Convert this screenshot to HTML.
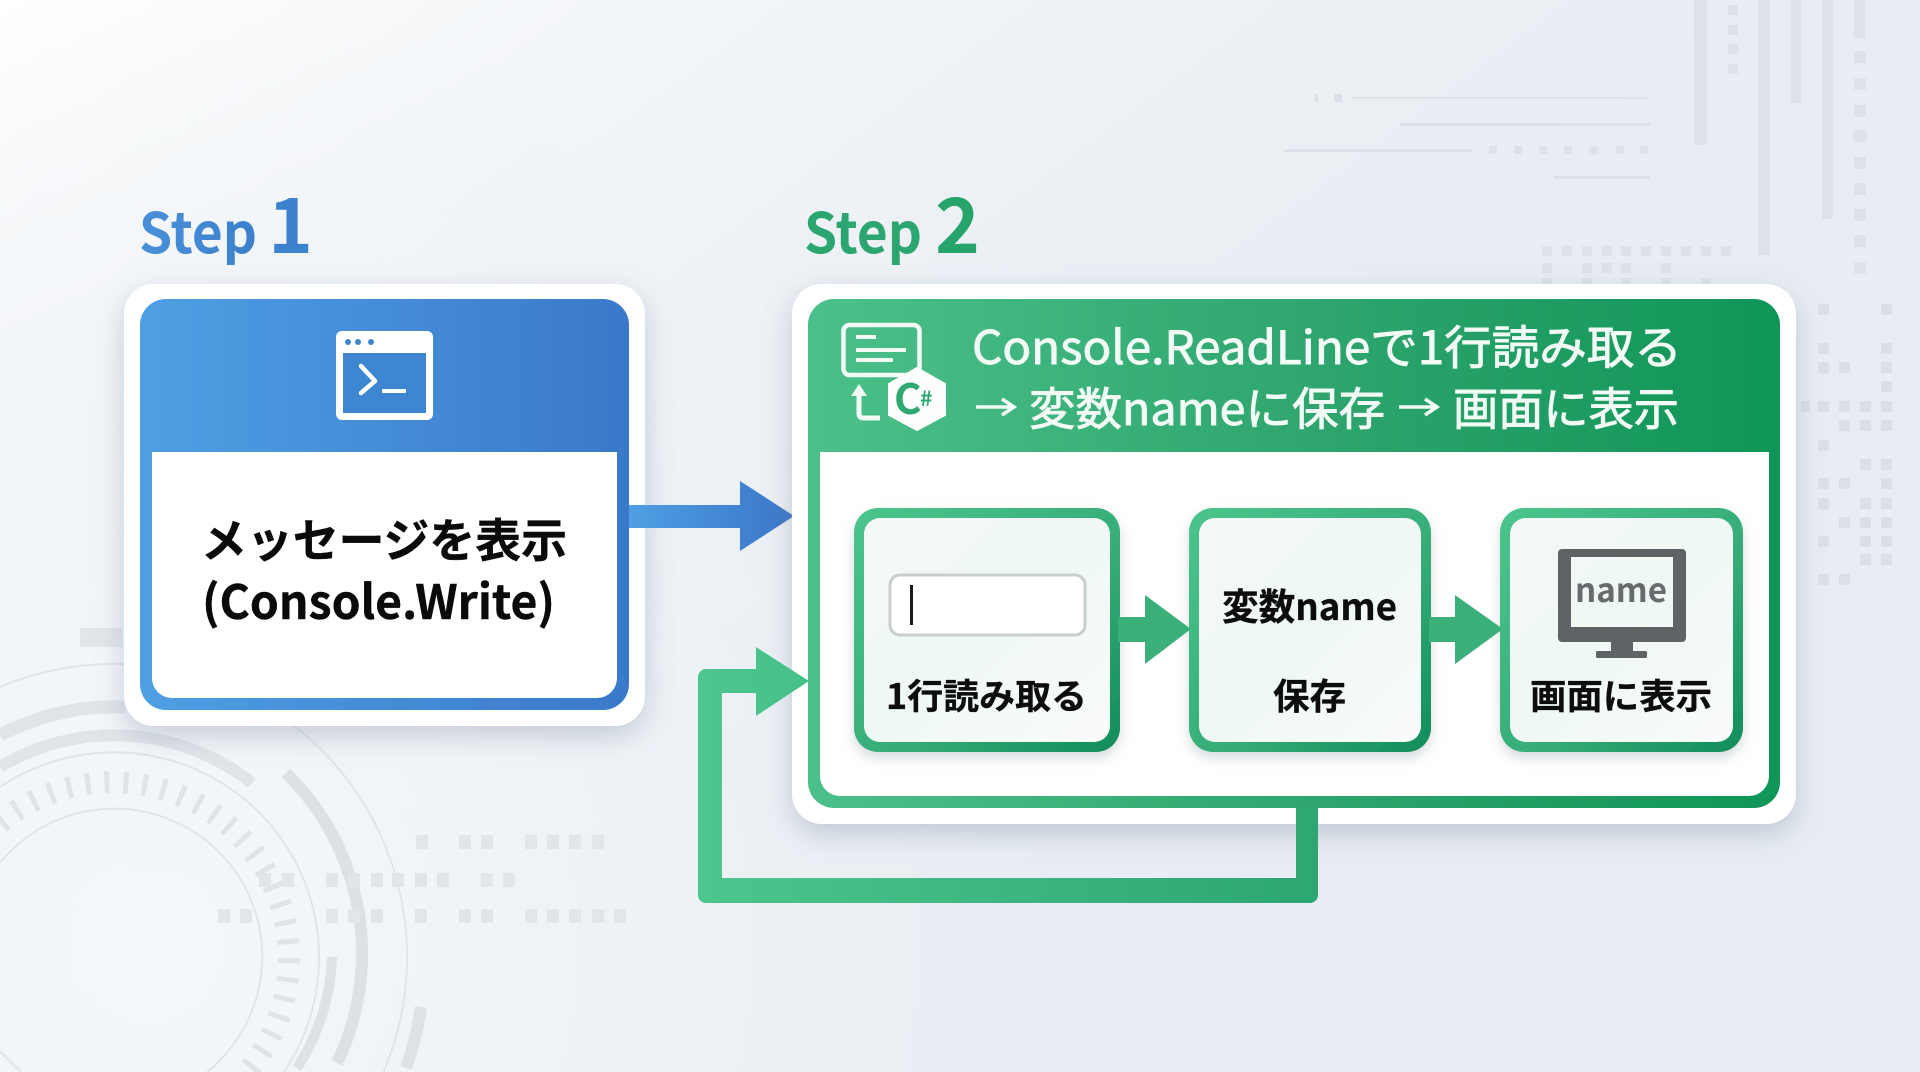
<!DOCTYPE html>
<html><head><meta charset="utf-8"><style>
html,body{margin:0;padding:0;width:1920px;height:1072px;overflow:hidden;background:#eef2f6}
svg{display:block}
text{font-family:"Noto Sans CJK JP","Liberation Sans",sans-serif;font-weight:700}
</style></head><body>
<svg width="1920" height="1072" viewBox="0 0 1920 1072" xmlns="http://www.w3.org/2000/svg">
<defs>
<linearGradient id="bg" x1="0" y1="0" x2="1" y2="0.75"><stop offset="0" stop-color="#ffffff"/><stop offset=".22" stop-color="#f2f5f8"/><stop offset=".6" stop-color="#e8edf3"/><stop offset="1" stop-color="#e8edf3"/></linearGradient>
<radialGradient id="bg2" gradientUnits="userSpaceOnUse" cx="150" cy="950" r="950"><stop offset="0" stop-color="#f5f8fa" stop-opacity=".95"/><stop offset=".55" stop-color="#f1f5f8" stop-opacity=".6"/><stop offset="1" stop-color="#eef2f6" stop-opacity="0"/></radialGradient>
<linearGradient id="blue" x1="0" y1="0" x2="1" y2="0"><stop offset="0" stop-color="#4f9fe4"/><stop offset="1" stop-color="#3a79c9"/></linearGradient>
<linearGradient id="blueArrow" gradientUnits="userSpaceOnUse" x1="629" y1="0" x2="793" y2="0"><stop offset="0" stop-color="#4f9fe4"/><stop offset="1" stop-color="#3a76c8"/></linearGradient>
<linearGradient id="stepB" x1="0" y1="0" x2="1" y2="0"><stop offset="0" stop-color="#4a90d9"/><stop offset="1" stop-color="#3c80cc"/></linearGradient>
<linearGradient id="green" x1="0" y1="0" x2="1" y2="0"><stop offset="0" stop-color="#4cc08a"/><stop offset=".55" stop-color="#2da46d"/><stop offset="1" stop-color="#0f9558"/></linearGradient>
<linearGradient id="greenSub" x1="0" y1="0" x2="1" y2="1"><stop offset="0" stop-color="#4cc58d"/><stop offset=".6" stop-color="#35ab76"/><stop offset="1" stop-color="#0f8c5a"/></linearGradient>
<linearGradient id="subFill" x1="0" y1="0" x2="1" y2="1"><stop offset="0" stop-color="#f3f9f6"/><stop offset=".5" stop-color="#eff8f4"/><stop offset="1" stop-color="#f9fbfa"/></linearGradient>
<linearGradient id="loop" gradientUnits="userSpaceOnUse" x1="698" y1="0" x2="1318" y2="0"><stop offset="0" stop-color="#4cc68e"/><stop offset="1" stop-color="#2ca772"/></linearGradient>
<filter id="sh" x="-10%" y="-10%" width="120%" height="130%"><feDropShadow dx="0" dy="10" stdDeviation="14" flood-color="#7f8ca0" flood-opacity=".38"/></filter>
<filter id="sh2" x="-10%" y="-10%" width="120%" height="125%"><feDropShadow dx="0" dy="6" stdDeviation="6" flood-color="#70808a" flood-opacity=".28"/></filter>
</defs>

<rect width="1920" height="1072" fill="url(#bg)"/>
<rect width="1920" height="1072" fill="url(#bg2)"/>

<!-- decoration top right -->
<g fill="#dde2e8">
<rect x="1352" y="97" width="296" height="2"/><rect x="1400" y="123" width="250" height="3"/><rect x="1284" y="149" width="188" height="3"/><rect x="1554" y="176" width="96" height="3"/>
<rect x="1315" y="94" width="3" height="8"/><rect x="1334" y="94" width="8" height="8"/>
<rect x="1489" y="146" width="8" height="8"/><rect x="1514" y="146" width="8" height="8"/><rect x="1539" y="146" width="8" height="8"/><rect x="1564" y="146" width="8" height="8"/><rect x="1590" y="146" width="8" height="8"/><rect x="1616" y="146" width="8" height="8"/><rect x="1640" y="146" width="8" height="8"/>
<rect x="1694" y="0" width="13" height="145"/><rect x="1758" y="0" width="12" height="255"/><rect x="1791" y="0" width="10" height="103"/><rect x="1822" y="0" width="11" height="219"/><rect x="1854" y="0" width="11" height="38"/>
<rect x="1728" y="5" width="10" height="10"/><rect x="1728" y="25" width="10" height="10"/><rect x="1728" y="44" width="10" height="10"/><rect x="1728" y="64" width="10" height="10"/>
<rect x="1854" y="51" width="12" height="12"/><rect x="1854" y="78" width="12" height="12"/><rect x="1854" y="105" width="12" height="12"/><rect x="1854" y="130" width="12" height="12"/><rect x="1854" y="157" width="12" height="12"/><rect x="1854" y="183" width="12" height="12"/><rect x="1854" y="209" width="12" height="12"/><rect x="1854" y="235" width="12" height="12"/><rect x="1854" y="262" width="12" height="12"/>
<rect x="1542" y="246" width="10" height="10"/><rect x="1562" y="246" width="10" height="10"/><rect x="1582" y="246" width="10" height="10"/><rect x="1602" y="246" width="10" height="10"/><rect x="1621" y="246" width="10" height="10"/><rect x="1641" y="246" width="10" height="10"/><rect x="1661" y="246" width="10" height="10"/><rect x="1681" y="246" width="10" height="10"/><rect x="1701" y="246" width="10" height="10"/><rect x="1721" y="246" width="10" height="10"/>
<rect x="1542" y="263" width="10" height="10"/><rect x="1582" y="263" width="10" height="10"/><rect x="1602" y="263" width="10" height="10"/><rect x="1621" y="263" width="10" height="10"/><rect x="1661" y="263" width="10" height="10"/>
<rect x="1542" y="278" width="10" height="6"/><rect x="1582" y="278" width="10" height="6"/><rect x="1621" y="278" width="10" height="6"/><rect x="1661" y="278" width="10" height="6"/><rect x="1701" y="278" width="10" height="6"/>
</g>
<g fill="#dbe0e7">
<rect x="1818" y="304" width="11" height="11"/><rect x="1881" y="304" width="11" height="11"/>
<rect x="1818" y="343" width="11" height="11"/><rect x="1881" y="343" width="11" height="11"/>
<rect x="1818" y="362" width="11" height="11"/><rect x="1839" y="362" width="11" height="11"/><rect x="1881" y="362" width="11" height="11"/>
<rect x="1881" y="381" width="11" height="11"/>
<rect x="1801" y="401" width="9" height="11"/><rect x="1818" y="401" width="11" height="11"/><rect x="1839" y="401" width="11" height="11"/><rect x="1860" y="401" width="11" height="11"/><rect x="1881" y="401" width="11" height="11"/>
<rect x="1839" y="420" width="11" height="11"/><rect x="1860" y="420" width="11" height="11"/><rect x="1881" y="420" width="11" height="11"/>
<rect x="1818" y="440" width="11" height="11"/>
<rect x="1860" y="459" width="11" height="11"/><rect x="1881" y="459" width="11" height="11"/>
<rect x="1818" y="478" width="11" height="11"/><rect x="1839" y="478" width="11" height="11"/><rect x="1881" y="478" width="11" height="11"/>
<rect x="1818" y="498" width="11" height="11"/><rect x="1860" y="498" width="11" height="11"/><rect x="1881" y="498" width="11" height="11"/>
<rect x="1839" y="517" width="11" height="11"/><rect x="1860" y="517" width="11" height="11"/><rect x="1881" y="517" width="11" height="11"/>
<rect x="1818" y="536" width="11" height="11"/><rect x="1860" y="536" width="11" height="11"/><rect x="1881" y="536" width="11" height="11"/>
<rect x="1860" y="554" width="11" height="11"/><rect x="1881" y="554" width="11" height="11"/>
<rect x="1818" y="574" width="11" height="11"/><rect x="1839" y="574" width="11" height="11"/>
</g>

<!-- decoration bottom left -->
<g fill="none" stroke="#e0e5e9">
<path d="M0 862.600A148 148 0 1 1 207 1072M0 1051.400L21 1072" stroke-width="2"/>
<path d="M0 823A176 176 0 0 1 247 1072" stroke-width="22" stroke-dasharray="5 14" stroke="#dfe4e8"/>
<path d="M0 787A205 205 0 0 1 284 1072" stroke-width="2"/>
<path d="M0 687A293 293 0 0 1 383.500 1072" stroke-width="2"/>
<path d="M0 767A222 222 0 0 1 252 783" stroke-width="12"/>
<path d="M0 735A250 250 0 0 1 125 707" stroke-width="13"/>
<path d="M286 773A252 252 0 0 1 337 1063" stroke-width="12" stroke="#dce1e6"/>
<path d="M332 957A218 218 0 0 1 297 1068" stroke-width="10" stroke="#dde2e6"/>
<path d="M421 1007A311 311 0 0 1 406 1068" stroke-width="12" stroke="#dde2e6"/>
</g>
<g fill="#e2e6ea">
<rect x="80" y="628" width="42" height="19"/>
<rect x="416" y="835" width="12" height="14"/><rect x="459" y="835" width="12" height="14"/><rect x="481" y="835" width="12" height="14"/><rect x="525" y="835" width="12" height="14"/><rect x="547" y="835" width="12" height="14"/><rect x="569" y="835" width="12" height="14"/><rect x="592" y="835" width="12" height="14"/>
<rect x="259" y="873" width="12" height="14"/><rect x="282" y="873" width="12" height="14"/><rect x="326" y="873" width="12" height="14"/><rect x="348" y="873" width="12" height="14"/><rect x="371" y="873" width="12" height="14"/><rect x="392" y="873" width="12" height="14"/><rect x="415" y="873" width="12" height="14"/><rect x="437" y="873" width="12" height="14"/><rect x="481" y="873" width="12" height="14"/><rect x="503" y="873" width="12" height="14"/>
<rect x="218" y="909" width="12" height="14"/><rect x="240" y="909" width="12" height="14"/><rect x="326" y="909" width="12" height="14"/><rect x="348" y="909" width="12" height="14"/><rect x="371" y="909" width="12" height="14"/><rect x="415" y="909" width="12" height="14"/><rect x="459" y="909" width="12" height="14"/><rect x="481" y="909" width="12" height="14"/><rect x="525" y="909" width="12" height="14"/><rect x="547" y="909" width="12" height="14"/><rect x="569" y="909" width="12" height="14"/><rect x="592" y="909" width="12" height="14"/><rect x="614" y="909" width="12" height="14"/>
</g>

<!-- step titles -->
<text x="139" y="253" font-size="56" fill="url(#stepB)" textLength="118" lengthAdjust="spacingAndGlyphs">Step</text>
<text x="268" y="253" font-size="76" fill="#3d82ce" textLength="45" lengthAdjust="spacingAndGlyphs">1</text>
<text x="804" y="253" font-size="56" fill="#2ca670" textLength="118" lengthAdjust="spacingAndGlyphs">Step</text>
<text x="935" y="253" font-size="76" fill="#26a46c" textLength="45" lengthAdjust="spacingAndGlyphs">2</text>

<!-- left card -->
<rect x="124" y="284" width="521" height="442" rx="30" fill="#fff" filter="url(#sh)"/>
<rect x="140" y="299" width="489" height="411" rx="26" fill="url(#blue)"/>
<path d="M152 452H617V678a20 20 0 0 1-20 20H172a20 20 0 0 1-20-20Z" fill="#fff"/>
<rect x="336" y="331" width="97" height="89" rx="6" fill="#fff"/>
<rect x="343" y="353" width="83" height="60" fill="#3f86d2"/>
<circle cx="348" cy="342" r="3" fill="#4384cf"/><circle cx="358" cy="342" r="3" fill="#4384cf"/><circle cx="371" cy="342" r="3" fill="#4384cf"/>
<path d="M361 366L375 381L361 393" fill="none" stroke="#fff" stroke-width="4.500" stroke-linecap="round" stroke-linejoin="round"/>
<rect x="382" y="389" width="24" height="4" rx="1" fill="#fff"/>
<text x="201" y="557" font-size="46" fill="#0a0a0a" stroke="#0a0a0a" stroke-width=".4" textLength="366" lengthAdjust="spacingAndGlyphs">メッセージを表示</text>
<text x="202" y="619" font-size="47" fill="#0a0a0a" stroke="#0a0a0a" stroke-width=".4" textLength="353" lengthAdjust="spacingAndGlyphs">(Console.Write)</text>

<!-- blue arrow -->
<path d="M629 505H740V481L794 516L740 551V528H629Z" fill="url(#blueArrow)"/>

<!-- right card -->
<rect x="792" y="284" width="1004" height="540" rx="30" fill="#fff" filter="url(#sh)"/>

<!-- loop -->
<path d="M1296 800V878H722V693H756V716L809 681L756 647V669H706a8 8 0 0 0-8 8V895a8 8 0 0 0 8 8H1310a8 8 0 0 0 8-8V800Z" fill="url(#loop)"/>

<rect x="808" y="299" width="972" height="509" rx="26" fill="url(#green)"/>
<path d="M820 452H1769V776a20 20 0 0 1-20 20H840a20 20 0 0 1-20-20Z" fill="#fff"/>

<!-- header icon -->
<rect x="843.500" y="325" width="76" height="50" rx="6" fill="none" stroke="#f2faf6" stroke-width="4.500"/>
<path d="M856 337H876M856 350H906M856 360H893" stroke="#f2faf6" stroke-width="4" fill="none"/>
<path d="M917 368L945 384V415L917 430L889 415V384Z" fill="#fbfefc" stroke="#fbfefc" stroke-width="2" stroke-linejoin="round"/>
<text x="894" y="414" font-size="42" fill="#30a872">C</text>
<text x="920" y="406" font-size="21" fill="#30a872">#</text>
<path d="M859 388V414a4 4 0 0 0 4 4H880" fill="none" stroke="#f2faf6" stroke-width="5"/>
<path d="M851 396L859 384L867 396Z" fill="#f2faf6"/>

<!-- header text -->
<text x="972" y="364" font-size="46" fill="#f1faf5" stroke="#f1faf5" stroke-width=".9" style="font-weight:400" textLength="710" lengthAdjust="spacingAndGlyphs">Console.ReadLineで1行読み取る</text>
<path d="M976 407H1012M1002 399L1014 407L1002 415" fill="none" stroke="#f1faf5" stroke-width="3.500"/>
<text x="1029" y="425" font-size="45" fill="#f1faf5" stroke="#f1faf5" stroke-width=".9" style="font-weight:400" textLength="356" lengthAdjust="spacingAndGlyphs">変数nameに保存</text>
<path d="M1399 407H1435M1425 399L1437 407L1425 415" fill="none" stroke="#f1faf5" stroke-width="3.500"/>
<text x="1453" y="425" font-size="45" fill="#f1faf5" stroke="#f1faf5" stroke-width=".9" style="font-weight:400" textLength="226" lengthAdjust="spacingAndGlyphs">画面に表示</text>

<!-- subcards -->
<g filter="url(#sh2)"><rect x="854" y="508" width="266" height="244" rx="24" fill="url(#greenSub)"/></g>
<rect x="864" y="518" width="246" height="224" rx="16" fill="url(#subFill)"/>
<g filter="url(#sh2)"><rect x="1189" y="508" width="242" height="244" rx="24" fill="url(#greenSub)"/></g>
<rect x="1199" y="518" width="222" height="224" rx="16" fill="url(#subFill)"/>
<g filter="url(#sh2)"><rect x="1500" y="508" width="243" height="244" rx="24" fill="url(#greenSub)"/></g>
<rect x="1510" y="518" width="223" height="224" rx="16" fill="url(#subFill)"/>

<!-- inner arrows -->
<path d="M1118 617H1145V595L1191 629L1145 664V642H1118Z" fill="#3bb07b"/>
<path d="M1429 617H1455V595L1503 629L1455 664V642H1429Z" fill="#3bb07b"/>

<!-- card 1 -->
<rect x="890" y="575" width="195" height="60" rx="10" fill="#fff" stroke="#c9cdd0" stroke-width="3"/>
<rect x="910" y="585" width="3" height="40" fill="#1a1a1a"/>
<text x="886" y="709" font-size="35" fill="#0d0d0d" stroke="#0d0d0d" stroke-width=".3" textLength="201" lengthAdjust="spacingAndGlyphs">1行読み取る</text>

<!-- card 2 -->
<text x="1222" y="620" font-size="37" fill="#0d0d0d" stroke="#0d0d0d" stroke-width=".3" textLength="175" lengthAdjust="spacingAndGlyphs">変数name</text>
<text x="1273" y="709" font-size="36" fill="#0d0d0d" stroke="#0d0d0d" stroke-width=".3" textLength="73" lengthAdjust="spacingAndGlyphs">保存</text>

<!-- card 3 -->
<path fill-rule="evenodd" d="M1562 549H1682a4 4 0 0 1 4 4V638a4 4 0 0 1-4 4H1562a4 4 0 0 1-4-4V553a4 4 0 0 1 4-4ZM1571 557V627H1673V557Z" fill="#5f6366"/>
<rect x="1611" y="642" width="22" height="11" fill="#5f6366"/>
<rect x="1596" y="651" width="51" height="7" rx="1.500" fill="#5f6366"/>
<text x="1575" y="602" font-size="33" fill="#676b6e" textLength="92" lengthAdjust="spacingAndGlyphs">name</text>
<text x="1530" y="709" font-size="35" fill="#0d0d0d" stroke="#0d0d0d" stroke-width=".3" textLength="182" lengthAdjust="spacingAndGlyphs">画面に表示</text>
</svg>
</body></html>
